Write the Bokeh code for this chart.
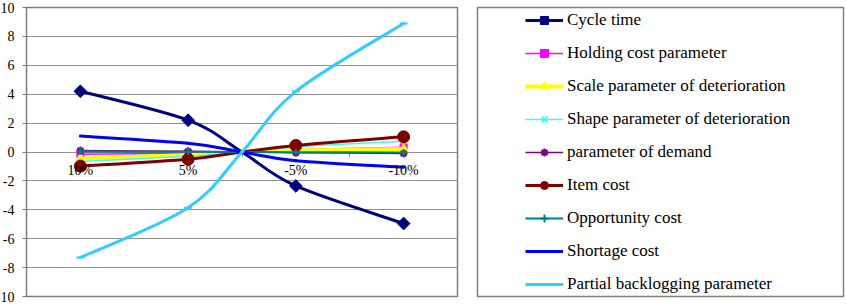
import math

from bokeh.plotting import figure
from bokeh.models import LinearAxis, FixedTicker, Grid, Legend, LegendItem, Range1d
from bokeh.layouts import row
from bokeh.embed import file_html
from bokeh.resources import INLINE
from bokeh.core.properties import value

# Category labels on the horizontal axis (change of each parameter)
categories = ["10%", "5%", "-5%", "-10%"]
# Changes at which every series is evaluated; 0 is the base case
changes = [10, 5, 0, -5, -10]

# Percentage change of the total cost for each parameter
cycle_time = [4.2, 2.2, 0.0, -2.35, -4.95]
holding_cost = [-0.15, -0.08, 0.0, 0.15, 0.33]
scale_deterioration = [-0.45, -0.2, 0.0, 0.1, 0.2]
shape_deterioration = [-0.65, -0.3, 0.0, 0.35, 0.75]
demand_parameter = [0.1, 0.05, 0.0, -0.05, -0.1]
item_cost = [-0.98, -0.5, 0.0, 0.45, 1.05]
opportunity_cost = [0.03, 0.01, 0.0, -0.01, -0.03]
shortage_cost = [1.1, 0.6, 0.0, -0.6, -1.05]
backlogging = [-7.3, -3.85, 0.0, 4.2, 8.9]

y_ticks = list(range(-10, 11, 2))
y_tick_labels = [str(t) for t in y_ticks]

SERIF = "Liberation Serif"
GREY = "#808080"

series = [
    ("Cycle time", cycle_time, "#000080", 3, "square", 9, math.pi / 4),
    ("Holding cost parameter", holding_cost, "#FF00FF", 1.5, "square", 7, 0),
    ("Scale parameter of deterioration", scale_deterioration, "#FFFF00", 4, "triangle", 10, 0),
    ("Shape parameter of deterioration", shape_deterioration, "#4DF2F2", 1.5, "x", 7, 0),
    ("parameter of demand", demand_parameter, "#800080", 1.5, "asterisk", 8, 0),
    ("Item cost", item_cost, "#800000", 3, "circle", 12, 0),
    ("Opportunity cost", opportunity_cost, "#008080", 2, "cross", 7, 0),
    ("Shortage cost", shortage_cost, "#0000FF", 3, None, 0, 0),
    ("Partial backlogging parameter", backlogging, "#33CCFF", 3, "dash", 8, 0),
]
THIN_MARKERS = ("x", "asterisk", "cross", "dash")


def cat_pos(change):
    """Horizontal position of a change value: category centres, base case on the middle boundary."""
    if change == 0:
        return len(categories) / 2
    return categories.index(f"{change}%") + 0.5


def smooth_segments(xs, ys):
    """Cubic Bezier pieces through the points (Catmull-Rom style smoothing)."""
    pts = list(zip(xs, ys))
    n = len(pts)
    out = {k: [] for k in ("x0", "y0", "x1", "y1", "cx0", "cy0", "cx1", "cy1")}
    for i in range(n - 1):
        p0 = pts[i - 1] if i > 0 else pts[i]
        p1, p2 = pts[i], pts[i + 1]
        p3 = pts[i + 2] if i + 2 < n else pts[i + 1]
        out["x0"].append(p1[0]); out["y0"].append(p1[1])
        out["x1"].append(p2[0]); out["y1"].append(p2[1])
        out["cx0"].append(p1[0] + (p2[0] - p0[0]) / 6)
        out["cy0"].append(p1[1] + (p2[1] - p0[1]) / 6)
        out["cx1"].append(p2[0] - (p3[0] - p1[0]) / 6)
        out["cy1"].append(p2[1] - (p3[1] - p1[1]) / 6)
    return out


xpos = [cat_pos(c) for c in changes]

# ---- main chart -------------------------------------------------------
p = figure(width=470, height=306, x_range=Range1d(0, len(categories)),
           y_range=Range1d(-10, 10), x_axis_location=None,
           toolbar_location=None, output_backend="svg",
           min_border_left=26, min_border_right=13, min_border_top=7, min_border_bottom=10)
p.outline_line_color = GREY
p.outline_line_width = 1.5
p.background_fill_color = "white"
p.border_fill_color = "white"
p.grid.visible = False

p.add_layout(Grid(dimension=1, ticker=FixedTicker(ticks=y_ticks),
                  grid_line_color="#8f8f8f", grid_line_width=1))

for name, vals, color, lw, marker, msize, mangle in series:
    seg = smooth_segments(xpos, vals)
    p.bezier(x0=seg["x0"], y0=seg["y0"], x1=seg["x1"], y1=seg["y1"],
             cx0=seg["cx0"], cy0=seg["cy0"], cx1=seg["cx1"], cy1=seg["cy1"],
             line_color=color, line_width=lw, line_cap="round")
    if marker:
        mx = [x for x, c in zip(xpos, changes) if c != 0]
        my = [v for v, c in zip(vals, changes) if c != 0]
        p.scatter(mx, my, marker=marker, size=msize, angle=mangle, line_color=color,
                  fill_color=color, line_width=2 if marker in THIN_MARKERS else 1)

# vertical value axis: line and ticks only, numbers drawn as text beside it
yax = p.yaxis[0]
yax.ticker = FixedTicker(ticks=y_ticks)
yax.major_label_overrides = {t: "" for t in y_ticks}
yax.axis_line_color = GREY
yax.major_tick_line_color = GREY
yax.major_tick_out = 4
yax.major_tick_in = 0
yax.minor_tick_line_color = None
yax.major_label_standoff = 0

p.text(x=[0] * len(y_ticks), y=y_ticks, text=y_tick_labels, x_offset=-12,
       text_align="right", text_baseline="middle", text_font=value(SERIF),
       text_font_size="14px", text_color="black", level="overlay")

# horizontal axis line through zero with ticks on category boundaries
xline = LinearAxis(fixed_location=0,
                   ticker=FixedTicker(ticks=list(range(len(categories) + 1))))
xline.axis_line_color = GREY
xline.major_tick_line_color = GREY
xline.major_tick_out = 4
xline.major_tick_in = 0
xline.minor_tick_line_color = None
xline.major_label_text_alpha = 0
xline.level = "underlay"
p.add_layout(xline, "below")

# category labels below the zero line
cat_ticks = [i + 0.5 for i in range(len(categories))]
xlab = LinearAxis(fixed_location=0, ticker=FixedTicker(ticks=cat_ticks),
                  major_label_overrides={t: lab for t, lab in zip(cat_ticks, categories)})
xlab.axis_line_color = None
xlab.major_tick_line_color = None
xlab.minor_tick_line_color = None
xlab.major_tick_out = 0
xlab.major_label_standoff = 11
xlab.major_label_text_font = SERIF
xlab.major_label_text_font_size = "14px"
xlab.major_label_text_color = "black"
p.add_layout(xlab, "below")

# ---- legend panel -------------------------------------------------------
q = figure(width=376, height=306, x_range=Range1d(0, 1), y_range=Range1d(0, 1),
           x_axis_location=None, y_axis_location=None, toolbar_location=None,
           output_backend="svg", min_border_left=7, min_border_right=3,
           min_border_top=3, min_border_bottom=5)
q.grid.visible = False
q.outline_line_color = GREY
q.outline_line_width = 1.5

items = []
for name, vals, color, lw, marker, msize, mangle in series:
    # swatch renderers sit outside the visible range; only their legend glyphs show
    rs = [q.line(x=[-5, -4], y=[-5, -5], line_color=color, line_width=lw)]
    if marker:
        rs.append(q.scatter(x=[-5], y=[-5], marker=marker, size=msize, angle=mangle,
                            line_color=color, fill_color=color,
                            line_width=2 if marker in THIN_MARKERS else 1))
    items.append(LegendItem(label=name, renderers=rs))

legend = Legend(items=items, location=(48, 2), padding=0, margin=0,
                glyph_width=38, glyph_height=20, label_height=20, spacing=13,
                label_standoff=4, border_line_color=None, background_fill_alpha=0,
                label_text_font=SERIF, label_text_font_size="17px",
                label_text_color="black")
q.add_layout(legend, "center")

layout = row(p, q)
open("out.html", "w").write(file_html(layout, INLINE))
